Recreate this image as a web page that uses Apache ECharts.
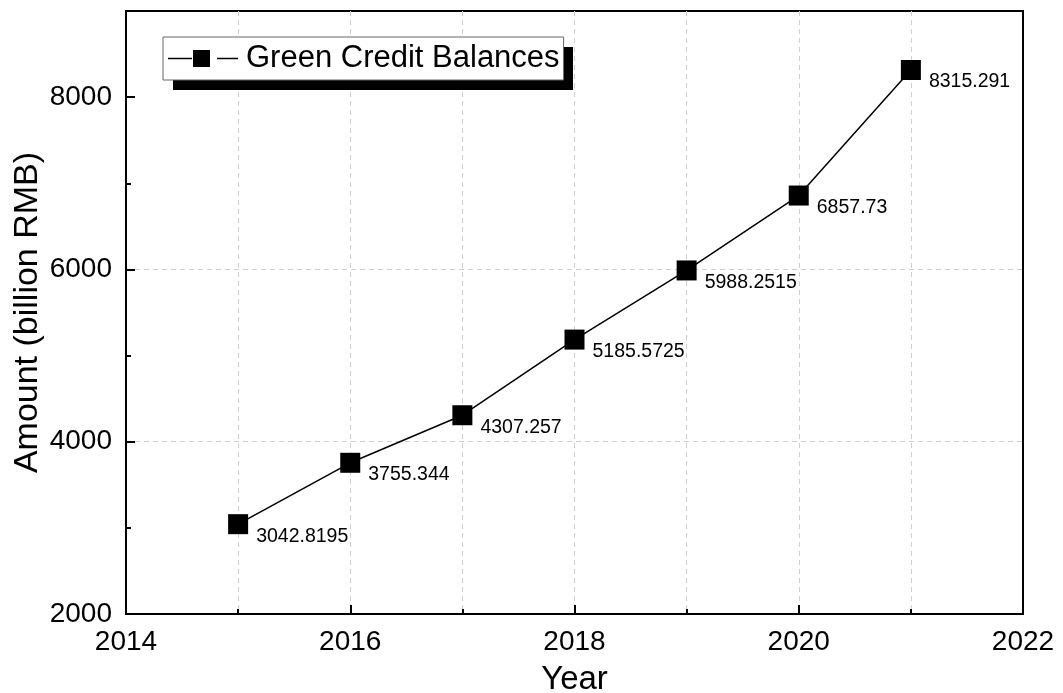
<!DOCTYPE html>
<html>
<head>
<meta charset="utf-8">
<script src="https://cdn.jsdelivr.net/npm/echarts@6/dist/echarts.min.js"></script>
<style>
html,body{margin:0;padding:0;background:#fff;}
#chart{width:1063px;height:693px;}
</style>
</head>
<body>
<div id="chart"></div>
<script>
const years = [2015, 2016, 2017, 2018, 2019, 2020, 2021];
const balances = [3042.8195, 3755.344, 4307.257, 5185.5725, 5988.2515, 6857.73, 8315.291];
const seriesName = 'Green Credit Balances';
const xTickLabels = [2014, 2016, 2018, 2020, 2022];
const yTickLabels = [2000, 4000, 6000, 8000];
const yMinorTicks = [3000, 5000, 7000];

const FONT = '"Liberation Sans", Arial, sans-serif';
const chart = echarts.init(document.getElementById('chart'));

const gridLine = { show: true, showMinLine: false, showMaxLine: false, lineStyle: { color: '#cfcfcf', type: [5, 4], width: 1 } };

chart.setOption({
  backgroundColor: '#fff',
  animation: false,
  grid: { left: 126, right: 40, top: 11, bottom: 79, outerBoundsMode: 'none', containLabel: false,
          show: true, borderColor: '#000', borderWidth: 2, backgroundColor: 'transparent' },
  graphic: [{
    type: 'rect', z: 3, silent: true,
    shape: { x: 173, y: 47, width: 400, height: 43 },
    style: { fill: '#000' }
  }],
  legend: {
    data: [seriesName],
    left: 163, top: 37, z: 10,
    padding: [6, 4, 6, 5],
    itemWidth: 70, itemHeight: 17,
    icon: 'path://M0,7.75h24v1.5h-24z M25,0h17v17h-17z M49,7.75h21v1.5h-21z',
    backgroundColor: '#fff',
    borderColor: '#666', borderWidth: 1,
    textStyle: { fontFamily: FONT, fontSize: 31, color: '#000', padding: [0, 0, 0, 3] }
  },
  xAxis: {
    type: 'value', min: 2014, max: 2022, interval: 2,
    name: 'Year', nameLocation: 'middle', nameGap: 49, nameMoveOverlap: false,
    nameTextStyle: { fontFamily: FONT, fontSize: 33, color: '#000' },
    axisLine: { show: true, lineStyle: { color: '#000', width: 2 } },
    axisTick: { show: true, inside: true, length: 9, lineStyle: { color: '#000', width: 2 } },
    minorTick: { show: true, splitNumber: 2, length: 5, lineStyle: { color: '#000', width: 2 } },
    splitLine: gridLine,
    minorSplitLine: { show: true, lineStyle: { color: '#cfcfcf', type: [5, 4], width: 1 } },
    axisLabel: { fontFamily: FONT, fontSize: 28, color: '#000', margin: 14, formatter: v => String(v) }
  },
  yAxis: [{
    type: 'value', min: 2000, max: 9000, interval: 1000, position: 'left',
    name: 'Amount (billion RMB)', nameLocation: 'middle', nameGap: 81, nameMoveOverlap: false,
    nameTextStyle: { fontFamily: FONT, fontSize: 34, color: '#000' },
    axisLine: { show: true, lineStyle: { color: '#000', width: 2 } },
    axisTick: { show: true, inside: true, length: 9, customValues: yTickLabels, lineStyle: { color: '#000', width: 2 } },
    splitLine: gridLine,
    axisLabel: { fontFamily: FONT, fontSize: 28, color: '#000', margin: 14, customValues: yTickLabels, formatter: v => String(v) }
  }, {
    type: 'value', min: 2000, max: 9000, interval: 1000, position: 'left', offset: 0,
    axisLine: { show: false },
    axisTick: { show: true, inside: true, length: 5, customValues: yMinorTicks, lineStyle: { color: '#000', width: 2 } },
    splitLine: { show: false },
    axisLabel: { show: false }
  }],
  series: [{
    name: seriesName,
    type: 'line',
    data: years.map((y, i) => [y, balances[i]]),
    symbol: 'rect', symbolSize: 20,
    itemStyle: { color: '#000' },
    lineStyle: { color: '#000', width: 1.5 },
    label: {
      show: true, position: [28, 22], align: 'left', verticalAlign: 'middle',
      fontFamily: FONT, fontSize: 19.5, color: '#000',
      formatter: p => String(p.value[1])
    },
    z: 5
  }]
});
</script>
</body>
</html>
